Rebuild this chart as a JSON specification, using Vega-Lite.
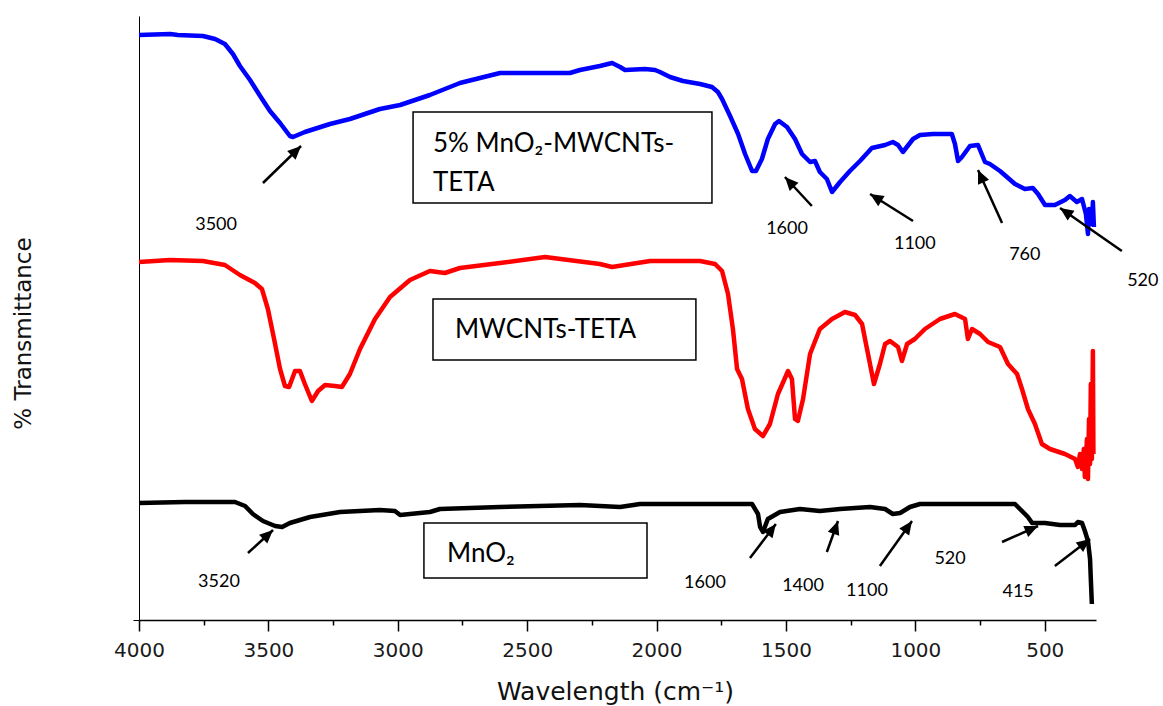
{
  "$schema": "https://vega.github.io/schema/vega-lite/v6.json",
  "width": 957,
  "height": 604,
  "autosize": {"type": "none"},
  "padding": {"left": 139, "top": 16, "right": 67, "bottom": 86},
  "background": "white",
  "config": {"view": {"stroke": null}},
  "datasets": {
    "spectra": [
      {"sample":"5% MnO2-MWCNTs-TETA","w":4000,"t":117},{"sample":"5% MnO2-MWCNTs-TETA","w":3880,"t":117.2},{"sample":"5% MnO2-MWCNTs-TETA","w":3850,"t":117},{"sample":"5% MnO2-MWCNTs-TETA","w":3753,"t":116.8},{"sample":"5% MnO2-MWCNTs-TETA","w":3706,"t":116.2},{"sample":"5% MnO2-MWCNTs-TETA","w":3668,"t":115.2},{"sample":"5% MnO2-MWCNTs-TETA","w":3637,"t":113.2},{"sample":"5% MnO2-MWCNTs-TETA","w":3610,"t":110.8},{"sample":"5% MnO2-MWCNTs-TETA","w":3571,"t":108},{"sample":"5% MnO2-MWCNTs-TETA","w":3532,"t":104.8},{"sample":"5% MnO2-MWCNTs-TETA","w":3494,"t":101.8},{"sample":"5% MnO2-MWCNTs-TETA","w":3455,"t":99.4},{"sample":"5% MnO2-MWCNTs-TETA","w":3417,"t":96.8},{"sample":"5% MnO2-MWCNTs-TETA","w":3405,"t":96.6},{"sample":"5% MnO2-MWCNTs-TETA","w":3359,"t":97.6},{"sample":"5% MnO2-MWCNTs-TETA","w":3262,"t":99.2},{"sample":"5% MnO2-MWCNTs-TETA","w":3185,"t":100.2},{"sample":"5% MnO2-MWCNTs-TETA","w":3069,"t":102.2},{"sample":"5% MnO2-MWCNTs-TETA","w":2991,"t":103},{"sample":"5% MnO2-MWCNTs-TETA","w":2876,"t":105},{"sample":"5% MnO2-MWCNTs-TETA","w":2760,"t":107.4},{"sample":"5% MnO2-MWCNTs-TETA","w":2605,"t":109.4},{"sample":"5% MnO2-MWCNTs-TETA","w":2335,"t":109.4},{"sample":"5% MnO2-MWCNTs-TETA","w":2296,"t":110},{"sample":"5% MnO2-MWCNTs-TETA","w":2219,"t":110.8},{"sample":"5% MnO2-MWCNTs-TETA","w":2172,"t":111.4},{"sample":"5% MnO2-MWCNTs-TETA","w":2141,"t":110.6},{"sample":"5% MnO2-MWCNTs-TETA","w":2122,"t":110},{"sample":"5% MnO2-MWCNTs-TETA","w":2045,"t":110.2},{"sample":"5% MnO2-MWCNTs-TETA","w":2006,"t":110},{"sample":"5% MnO2-MWCNTs-TETA","w":1987,"t":109.6},{"sample":"5% MnO2-MWCNTs-TETA","w":1948,"t":108.6},{"sample":"5% MnO2-MWCNTs-TETA","w":1898,"t":107.8},{"sample":"5% MnO2-MWCNTs-TETA","w":1832,"t":107.2},{"sample":"5% MnO2-MWCNTs-TETA","w":1786,"t":106.6},{"sample":"5% MnO2-MWCNTs-TETA","w":1763,"t":105.6},{"sample":"5% MnO2-MWCNTs-TETA","w":1747,"t":104.2},{"sample":"5% MnO2-MWCNTs-TETA","w":1716,"t":100.8},{"sample":"5% MnO2-MWCNTs-TETA","w":1685,"t":97.2},{"sample":"5% MnO2-MWCNTs-TETA","w":1658,"t":93.2},{"sample":"5% MnO2-MWCNTs-TETA","w":1631,"t":89.8},{"sample":"5% MnO2-MWCNTs-TETA","w":1616,"t":89.8},{"sample":"5% MnO2-MWCNTs-TETA","w":1593,"t":92.2},{"sample":"5% MnO2-MWCNTs-TETA","w":1570,"t":96.2},{"sample":"5% MnO2-MWCNTs-TETA","w":1542,"t":99.2},{"sample":"5% MnO2-MWCNTs-TETA","w":1527,"t":99.8},{"sample":"5% MnO2-MWCNTs-TETA","w":1496,"t":98.6},{"sample":"5% MnO2-MWCNTs-TETA","w":1465,"t":96.2},{"sample":"5% MnO2-MWCNTs-TETA","w":1438,"t":93.2},{"sample":"5% MnO2-MWCNTs-TETA","w":1407,"t":91.6},{"sample":"5% MnO2-MWCNTs-TETA","w":1388,"t":91.8},{"sample":"5% MnO2-MWCNTs-TETA","w":1369,"t":89.6},{"sample":"5% MnO2-MWCNTs-TETA","w":1342,"t":88.2},{"sample":"5% MnO2-MWCNTs-TETA","w":1322,"t":85.6},{"sample":"5% MnO2-MWCNTs-TETA","w":1291,"t":87.6},{"sample":"5% MnO2-MWCNTs-TETA","w":1253,"t":89.8},{"sample":"5% MnO2-MWCNTs-TETA","w":1214,"t":91.8},{"sample":"5% MnO2-MWCNTs-TETA","w":1168,"t":94.4},{"sample":"5% MnO2-MWCNTs-TETA","w":1117,"t":95},{"sample":"5% MnO2-MWCNTs-TETA","w":1087,"t":95.6},{"sample":"5% MnO2-MWCNTs-TETA","w":1067,"t":95},{"sample":"5% MnO2-MWCNTs-TETA","w":1048,"t":93.6},{"sample":"5% MnO2-MWCNTs-TETA","w":1009,"t":96.2},{"sample":"5% MnO2-MWCNTs-TETA","w":982,"t":97},{"sample":"5% MnO2-MWCNTs-TETA","w":932,"t":97.2},{"sample":"5% MnO2-MWCNTs-TETA","w":859,"t":97.2},{"sample":"5% MnO2-MWCNTs-TETA","w":847,"t":95.2},{"sample":"5% MnO2-MWCNTs-TETA","w":835,"t":91.8},{"sample":"5% MnO2-MWCNTs-TETA","w":820,"t":92.6},{"sample":"5% MnO2-MWCNTs-TETA","w":789,"t":94.8},{"sample":"5% MnO2-MWCNTs-TETA","w":758,"t":95},{"sample":"5% MnO2-MWCNTs-TETA","w":731,"t":91.6},{"sample":"5% MnO2-MWCNTs-TETA","w":712,"t":91.2},{"sample":"5% MnO2-MWCNTs-TETA","w":673,"t":89.8},{"sample":"5% MnO2-MWCNTs-TETA","w":615,"t":87.2},{"sample":"5% MnO2-MWCNTs-TETA","w":577,"t":86.2},{"sample":"5% MnO2-MWCNTs-TETA","w":546,"t":86.4},{"sample":"5% MnO2-MWCNTs-TETA","w":526,"t":85.2},{"sample":"5% MnO2-MWCNTs-TETA","w":499,"t":83},{"sample":"5% MnO2-MWCNTs-TETA","w":461,"t":83},{"sample":"5% MnO2-MWCNTs-TETA","w":422,"t":84},{"sample":"5% MnO2-MWCNTs-TETA","w":403,"t":84.8},{"sample":"5% MnO2-MWCNTs-TETA","w":376,"t":83.6},{"sample":"5% MnO2-MWCNTs-TETA","w":356,"t":84.2},{"sample":"5% MnO2-MWCNTs-TETA","w":341,"t":81.2},{"sample":"5% MnO2-MWCNTs-TETA","w":333,"t":77.2},{"sample":"5% MnO2-MWCNTs-TETA","w":329,"t":82.2},{"sample":"5% MnO2-MWCNTs-TETA","w":318,"t":79.2},{"sample":"5% MnO2-MWCNTs-TETA","w":314,"t":83.6},{"sample":"5% MnO2-MWCNTs-TETA","w":310,"t":78.6},
      {"sample":"MWCNTs-TETA","w":4000,"t":71.6},{"sample":"MWCNTs-TETA","w":3880,"t":72},{"sample":"MWCNTs-TETA","w":3753,"t":71.8},{"sample":"MWCNTs-TETA","w":3668,"t":71},{"sample":"MWCNTs-TETA","w":3610,"t":69},{"sample":"MWCNTs-TETA","w":3552,"t":67.4},{"sample":"MWCNTs-TETA","w":3525,"t":66.2},{"sample":"MWCNTs-TETA","w":3502,"t":62.2},{"sample":"MWCNTs-TETA","w":3478,"t":56.2},{"sample":"MWCNTs-TETA","w":3455,"t":50.2},{"sample":"MWCNTs-TETA","w":3436,"t":46.8},{"sample":"MWCNTs-TETA","w":3420,"t":46.6},{"sample":"MWCNTs-TETA","w":3397,"t":49.8},{"sample":"MWCNTs-TETA","w":3378,"t":49.8},{"sample":"MWCNTs-TETA","w":3359,"t":47.2},{"sample":"MWCNTs-TETA","w":3332,"t":43.8},{"sample":"MWCNTs-TETA","w":3308,"t":45.8},{"sample":"MWCNTs-TETA","w":3281,"t":47},{"sample":"MWCNTs-TETA","w":3243,"t":46.8},{"sample":"MWCNTs-TETA","w":3216,"t":46.6},{"sample":"MWCNTs-TETA","w":3185,"t":49.2},{"sample":"MWCNTs-TETA","w":3146,"t":54.2},{"sample":"MWCNTs-TETA","w":3088,"t":60.2},{"sample":"MWCNTs-TETA","w":3030,"t":64.6},{"sample":"MWCNTs-TETA","w":2953,"t":68},{"sample":"MWCNTs-TETA","w":2876,"t":69.8},{"sample":"MWCNTs-TETA","w":2818,"t":69.4},{"sample":"MWCNTs-TETA","w":2760,"t":70.4},{"sample":"MWCNTs-TETA","w":2605,"t":71.4},{"sample":"MWCNTs-TETA","w":2431,"t":72.6},{"sample":"MWCNTs-TETA","w":2219,"t":71.2},{"sample":"MWCNTs-TETA","w":2172,"t":70.6},{"sample":"MWCNTs-TETA","w":2025,"t":71.8},{"sample":"MWCNTs-TETA","w":1832,"t":71.8},{"sample":"MWCNTs-TETA","w":1774,"t":71.2},{"sample":"MWCNTs-TETA","w":1747,"t":69.8},{"sample":"MWCNTs-TETA","w":1724,"t":65.2},{"sample":"MWCNTs-TETA","w":1705,"t":58.2},{"sample":"MWCNTs-TETA","w":1689,"t":50.2},{"sample":"MWCNTs-TETA","w":1670,"t":48.2},{"sample":"MWCNTs-TETA","w":1647,"t":42.2},{"sample":"MWCNTs-TETA","w":1620,"t":38.2},{"sample":"MWCNTs-TETA","w":1589,"t":36.8},{"sample":"MWCNTs-TETA","w":1562,"t":39.2},{"sample":"MWCNTs-TETA","w":1531,"t":45.2},{"sample":"MWCNTs-TETA","w":1492,"t":49.8},{"sample":"MWCNTs-TETA","w":1477,"t":48.2},{"sample":"MWCNTs-TETA","w":1465,"t":40.2},{"sample":"MWCNTs-TETA","w":1454,"t":39.8},{"sample":"MWCNTs-TETA","w":1434,"t":44.2},{"sample":"MWCNTs-TETA","w":1407,"t":53.2},{"sample":"MWCNTs-TETA","w":1369,"t":58.2},{"sample":"MWCNTs-TETA","w":1322,"t":60.2},{"sample":"MWCNTs-TETA","w":1272,"t":61.6},{"sample":"MWCNTs-TETA","w":1233,"t":61},{"sample":"MWCNTs-TETA","w":1206,"t":59.2},{"sample":"MWCNTs-TETA","w":1183,"t":53.2},{"sample":"MWCNTs-TETA","w":1160,"t":47.2},{"sample":"MWCNTs-TETA","w":1137,"t":51.2},{"sample":"MWCNTs-TETA","w":1117,"t":55.2},{"sample":"MWCNTs-TETA","w":1098,"t":55.8},{"sample":"MWCNTs-TETA","w":1067,"t":54.6},{"sample":"MWCNTs-TETA","w":1052,"t":51.8},{"sample":"MWCNTs-TETA","w":1032,"t":55.2},{"sample":"MWCNTs-TETA","w":1002,"t":56.2},{"sample":"MWCNTs-TETA","w":963,"t":58.2},{"sample":"MWCNTs-TETA","w":905,"t":60.2},{"sample":"MWCNTs-TETA","w":847,"t":61.2},{"sample":"MWCNTs-TETA","w":808,"t":60.2},{"sample":"MWCNTs-TETA","w":797,"t":56.2},{"sample":"MWCNTs-TETA","w":781,"t":58.2},{"sample":"MWCNTs-TETA","w":750,"t":57.2},{"sample":"MWCNTs-TETA","w":719,"t":55.6},{"sample":"MWCNTs-TETA","w":673,"t":54.6},{"sample":"MWCNTs-TETA","w":642,"t":51.2},{"sample":"MWCNTs-TETA","w":607,"t":49.2},{"sample":"MWCNTs-TETA","w":588,"t":46.2},{"sample":"MWCNTs-TETA","w":565,"t":42.2},{"sample":"MWCNTs-TETA","w":538,"t":39.2},{"sample":"MWCNTs-TETA","w":511,"t":35.2},{"sample":"MWCNTs-TETA","w":480,"t":34.2},{"sample":"MWCNTs-TETA","w":422,"t":33.2},{"sample":"MWCNTs-TETA","w":383,"t":32.2},{"sample":"MWCNTs-TETA","w":372,"t":30.6},{"sample":"MWCNTs-TETA","w":364,"t":33.2},{"sample":"MWCNTs-TETA","w":356,"t":30.2},{"sample":"MWCNTs-TETA","w":349,"t":34.2},{"sample":"MWCNTs-TETA","w":345,"t":28.6},{"sample":"MWCNTs-TETA","w":337,"t":36.2},{"sample":"MWCNTs-TETA","w":333,"t":28.2},{"sample":"MWCNTs-TETA","w":329,"t":40.2},{"sample":"MWCNTs-TETA","w":325,"t":31.2},{"sample":"MWCNTs-TETA","w":322,"t":47.2},{"sample":"MWCNTs-TETA","w":318,"t":32.2},{"sample":"MWCNTs-TETA","w":314,"t":53.8},{"sample":"MWCNTs-TETA","w":312,"t":33.2},
      {"sample":"MnO2","w":4000,"t":23.4},{"sample":"MnO2","w":3822,"t":23.6},{"sample":"MnO2","w":3629,"t":23.6},{"sample":"MnO2","w":3590,"t":22.8},{"sample":"MnO2","w":3560,"t":21.2},{"sample":"MnO2","w":3521,"t":19.8},{"sample":"MnO2","w":3474,"t":18.8},{"sample":"MnO2","w":3447,"t":18.6},{"sample":"MnO2","w":3417,"t":19.4},{"sample":"MnO2","w":3339,"t":20.6},{"sample":"MnO2","w":3223,"t":21.6},{"sample":"MnO2","w":3069,"t":22},{"sample":"MnO2","w":3011,"t":21.8},{"sample":"MnO2","w":2991,"t":21},{"sample":"MnO2","w":2953,"t":21.2},{"sample":"MnO2","w":2876,"t":21.6},{"sample":"MnO2","w":2837,"t":22.2},{"sample":"MnO2","w":2605,"t":22.6},{"sample":"MnO2","w":2296,"t":23},{"sample":"MnO2","w":2141,"t":22.6},{"sample":"MnO2","w":2064,"t":23.2},{"sample":"MnO2","w":1716,"t":23.2},{"sample":"MnO2","w":1631,"t":23.2},{"sample":"MnO2","w":1608,"t":21.2},{"sample":"MnO2","w":1600,"t":18.6},{"sample":"MnO2","w":1589,"t":17.6},{"sample":"MnO2","w":1570,"t":20.2},{"sample":"MnO2","w":1523,"t":21.6},{"sample":"MnO2","w":1446,"t":22.2},{"sample":"MnO2","w":1369,"t":21.8},{"sample":"MnO2","w":1291,"t":22.2},{"sample":"MnO2","w":1175,"t":22.6},{"sample":"MnO2","w":1117,"t":22.2},{"sample":"MnO2","w":1087,"t":21.2},{"sample":"MnO2","w":1059,"t":21.4},{"sample":"MnO2","w":1021,"t":22.6},{"sample":"MnO2","w":982,"t":23.2},{"sample":"MnO2","w":615,"t":23.2},{"sample":"MnO2","w":596,"t":22.2},{"sample":"MnO2","w":565,"t":20.6},{"sample":"MnO2","w":549,"t":19.4},{"sample":"MnO2","w":499,"t":19.4},{"sample":"MnO2","w":441,"t":19},{"sample":"MnO2","w":383,"t":19},{"sample":"MnO2","w":372,"t":19.6},{"sample":"MnO2","w":356,"t":19.4},{"sample":"MnO2","w":345,"t":17.8},{"sample":"MnO2","w":333,"t":15.8},{"sample":"MnO2","w":325,"t":12.2},{"sample":"MnO2","w":322,"t":8.2},{"sample":"MnO2","w":318,"t":3.2}
    ],
    "boxes": [
      {"w": 2941, "w2": 1786, "t": 101.6, "t2": 83.4},
      {"w": 2864, "w2": 1848, "t": 64.2, "t2": 52},
      {"w": 2899, "w2": 2037, "t": 19.4, "t2": 8.4}
    ],
    "boxtext": [
      {"w": 2864, "t": 93.6, "label": "5% MnO₂-MWCNTs-"},
      {"w": 2864, "t": 85.8, "label": "TETA"},
      {"w": 2779, "t": 56.4, "label": "MWCNTs-TETA"},
      {"w": 2810, "t": 11.6, "label": "MnO₂"}
    ],
    "arrows": [
      {"w": 3374, "t": 94.8, "w2": 3521, "t2": 87.4, "angle": 45.8},
      {"w": 1504, "t": 88.6, "w2": 1400, "t2": 82.8, "angle": -43},
      {"w": 1175, "t": 85.2, "w2": 1009, "t2": 79.8, "angle": -57.9},
      {"w": 758, "t": 90, "w2": 665, "t2": 79.4, "angle": -24.4},
      {"w": 441, "t": 82.4, "w2": 202, "t2": 73.8, "angle": -55.3},
      {"w": 3482, "t": 18, "w2": 3579, "t2": 13.4, "angle": 47.4},
      {"w": 1539, "t": 19.2, "w2": 1639, "t2": 12.4, "angle": 37.4},
      {"w": 1299, "t": 19.8, "w2": 1342, "t2": 13.6, "angle": 19.5},
      {"w": 1013, "t": 19.8, "w2": 1137, "t2": 10.8, "angle": 35.4},
      {"w": 526, "t": 18.8, "w2": 665, "t2": 15.6, "angle": 66},
      {"w": 325, "t": 16.2, "w2": 461, "t2": 10.8, "angle": 52.4}
    ],
    "peaks": [
      {"w": 3702, "t": 79, "label": "3500"},
      {"w": 1496, "t": 78.2, "label": "1600"},
      {"w": 1002, "t": 75.2, "label": "1100"},
      {"w": 577, "t": 73, "label": "760"},
      {"w": 121, "t": 67.8, "label": "520"},
      {"w": 3691, "t": 7.6, "label": "3520"},
      {"w": 1813, "t": 7.4, "label": "1600"},
      {"w": 1434, "t": 6.8, "label": "1400"},
      {"w": 1187, "t": 5.8, "label": "1100"},
      {"w": 866, "t": 12.2, "label": "520"},
      {"w": 603, "t": 5.6, "label": "415"}
    ]
  },
  "encoding": {
    "x": {
      "field": "w", "type": "quantitative",
      "scale": {"domain": [302, 4000], "reverse": true, "nice": false, "zero": false},
      "axis": {
        "title": "Wavelength (cm⁻¹)",
        "values": [4000,3750,3500,3250,3000,2750,2500,2250,2000,1750,1500,1250,1000,750,500],
        "labelExpr": "datum.value % 500 === 0 ? datum.value : ''",
        "grid": false,
        "domainColor": "#000", "domainWidth": 1.5,
        "tickColor": "#000", "tickWidth": 1.5,
        "tickSize": {"condition": {"test": "datum.value % 500 === 0", "value": 11}, "value": 5},
        "labelFont": "DejaVu Sans", "labelFontSize": 20, "labelColor": "#1a1a1a",
        "labelPadding": 9, "labelFlush": false, "labelOverlap": false,
        "titleFont": "DejaVu Sans", "titleFontSize": 25, "titleFontWeight": "normal", "titleColor": "#111",
        "titleX": 476, "titleY": 79, "titleBaseline": "alphabetic", "titleAlign": "center"
      }
    },
    "y": {
      "field": "t", "type": "quantitative",
      "scale": {"domain": [0, 120.8], "nice": false, "zero": false},
      "axis": {
        "title": "% Transmittance",
        "labels": false, "values": [0], "tickSize": 6, "tickColor": "#000", "grid": false,
        "domainColor": "#000", "domainWidth": 1,
        "titleFont": "DejaVu Sans", "titleFontSize": 23, "titleFontWeight": "normal", "titleColor": "#111",
        "titleX": -116, "titleY": 317, "titleAngle": -90, "titleBaseline": "middle", "titleAlign": "center"
      }
    }
  },
  "layer": [
    {
      "data": {"name": "spectra"},
      "mark": {"type": "line", "strokeWidth": 4.5, "strokeJoin": "round"},
      "encoding": {
        "color": {"field": "sample", "type": "nominal",
          "scale": {"domain": ["5% MnO2-MWCNTs-TETA", "MWCNTs-TETA", "MnO2"], "range": ["#0000ff", "#ff0000", "#000000"]},
          "legend": null}
      }
    },
    {
      "data": {"name": "boxes"},
      "mark": {"type": "rect", "fill": "white", "fillOpacity": 0, "stroke": "#000", "strokeWidth": 1.5},
      "encoding": {"x2": {"field": "w2"}, "y2": {"field": "t2"}}
    },
    {
      "data": {"name": "boxtext"},
      "mark": {"type": "text", "font": "Lato", "fontSize": 26, "align": "left", "baseline": "alphabetic", "color": "#000"},
      "encoding": {"text": {"field": "label"}}
    },
    {
      "data": {"name": "arrows"},
      "mark": {"type": "rule", "strokeWidth": 2.5, "color": "#000"},
      "encoding": {"x2": {"field": "w2"}, "y2": {"field": "t2"}}
    },
    {
      "data": {"name": "arrows"},
      "mark": {"type": "point", "shape": "M0,0L-0.9,2L0.9,2Z", "filled": true, "color": "#000", "size": 180, "opacity": 1},
      "encoding": {
        "angle": {"field": "angle", "type": "quantitative", "scale": null}
      }
    },
    {
      "data": {"name": "peaks"},
      "mark": {"type": "text", "font": "Lato", "fontSize": 18, "align": "center", "baseline": "middle", "color": "#000"},
      "encoding": {"text": {"field": "label"}}
    }
  ]
}
